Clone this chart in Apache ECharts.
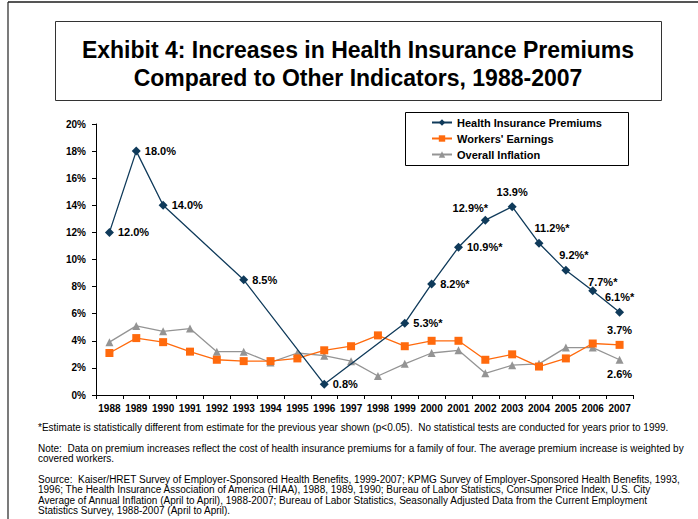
<!DOCTYPE html>
<html>
<head>
<meta charset="utf-8">
<title>Exhibit 4</title>
<script src="https://cdn.jsdelivr.net/npm/echarts@6/dist/echarts.min.js"></script>
<style>
  html, body { margin: 0; padding: 0; background: #fff; }
  #chart { width: 698px; height: 519px; }
</style>
</head>
<body>
<div id="chart"></div>
<script>
const years = ['1988', '1989', '1990', '1991', '1992', '1993', '1994', '1995', '1996', '1997',
  '1998', '1999', '2000', '2001', '2002', '2003', '2004', '2005', '2006', '2007'];
// premium survey only available for some years before 1999
const premiums = [12.0, 18.0, 14.0, null, null, 8.5, null, null, 0.8, null,
  null, 5.3, 8.2, 10.9, 12.9, 13.9, 11.2, 9.2, 7.7, 6.1];
const earnings = [3.1, 4.2, 3.9, 3.2, 2.6, 2.5, 2.5, 2.7, 3.3, 3.6,
  4.4, 3.6, 4.0, 4.0, 2.6, 3.0, 2.1, 2.7, 3.8, 3.7];
const inflation = [3.9, 5.1, 4.7, 4.9, 3.2, 3.2, 2.4, 3.1, 2.9, 2.5,
  1.4, 2.3, 3.1, 3.3, 1.6, 2.2, 2.3, 3.5, 3.5, 2.6];
// years whose premium change is significant vs previous year
const significantYears = ['1999', '2000', '2001', '2002', '2004', '2005', '2006', '2007'];
const yTicks = [0, 2, 4, 6, 8, 10, 12, 14, 16, 18, 20];

const footnotes = [
  '*Estimate is statistically different from estimate for the previous year shown (p<0.05).  No statistical tests are conducted for years prior to 1999.',
  'Note:  Data on premium increases reflect the cost of health insurance premiums for a family of four. The average premium increase is weighted by\ncovered workers.',
  'Source:  Kaiser/HRET Survey of Employer-Sponsored Health Benefits, 1999-2007; KPMG Survey of Employer-Sponsored Health Benefits, 1993,\n1996; The Health Insurance Association of America (HIAA), 1988, 1989, 1990; Bureau of Labor Statistics, Consumer Price Index, U.S. City\nAverage of Annual Inflation (April to April), 1988-2007; Bureau of Labor Statistics, Seasonally Adjusted Data from the Current Employment\nStatistics Survey, 1988-2007 (April to April).'
];

const FONT = '"Liberation Sans", Arial, sans-serif';
const NAVY = '#0f3a5a', ORANGE = '#ff6a0d', GRAY = '#949494';

// where each premium label sits around its point
const premiumLabelPos = {
  '2002': { position: 'top', offset: [-15, 3] },
  '2003': { position: 'top', offset: [0, 0] },
  '2004': { position: 'top', offset: [13, 0] },
  '2005': { position: 'top', offset: [8, 0] },
  '2006': { position: 'top', offset: [10, 6] },
  '2007': { position: 'top', offset: [0, 0] }
};

const labelStyle = { show: true, color: '#000', fontFamily: FONT, fontWeight: 'bold', fontSize: 11 };

function premiumData() {
  return premiums.map((v, i) => {
    if (v === null) return null;
    const y = years[i];
    const star = significantYears.includes(y) ? '*' : '';
    const pos = premiumLabelPos[y] || { position: 'right', distance: 4 };
    return {
      value: v,
      label: Object.assign({}, labelStyle, pos, { formatter: v.toFixed(1) + '%' + star })
    };
  });
}

function lastLabelData(values, position) {
  return values.map((v, i) => i === values.length - 1
    ? { value: v, label: Object.assign({}, labelStyle, { position, formatter: v.toFixed(1) + '%' }) }
    : v);
}

const chart = echarts.init(document.getElementById('chart'), null, { renderer: 'svg' });

chart.setOption({
  animation: false,
  backgroundColor: '#fff',
  grid: { left: 96, right: 65, top: 124, bottom: 124 },
  legend: {
    orient: 'vertical',
    left: 431,
    top: 117,
    itemWidth: 20,
    itemHeight: 8,
    itemGap: 5,
    padding: 0,
    textStyle: { color: '#000', fontFamily: FONT, fontWeight: 'bold', fontSize: 11 },
    data: ['Health Insurance Premiums', "Workers' Earnings", 'Overall Inflation']
  },
  xAxis: {
    type: 'category',
    data: years,
    boundaryGap: true,
    axisLine: { lineStyle: { color: '#000', width: 1 } },
    axisTick: { show: true, length: 4, interval: 0, lineStyle: { color: '#000' } },
    axisLabel: { interval: 0, color: '#000', fontFamily: FONT, fontWeight: 'bold', fontSize: 10, margin: 8 },
    splitLine: { show: false }
  },
  yAxis: {
    type: 'value',
    min: yTicks[0],
    max: yTicks[yTicks.length - 1],
    interval: 2,
    axisLine: { show: true, lineStyle: { color: '#000', width: 1 } },
    axisTick: { show: true, length: 4, lineStyle: { color: '#000' } },
    axisLabel: { color: '#000', fontFamily: FONT, fontWeight: 'bold', fontSize: 10, margin: 10, formatter: '{value}%' },
    splitLine: { show: false }
  },
  series: [
    {
      name: 'Health Insurance Premiums',
      type: 'line',
      data: premiumData(),
      connectNulls: true,
      symbol: 'diamond',
      symbolSize: 9,
      color: NAVY,
      lineStyle: { color: NAVY, width: 1.3 },
      itemStyle: { color: NAVY },
      z: 4
    },
    {
      name: "Workers' Earnings",
      type: 'line',
      data: lastLabelData(earnings, 'top'),
      symbol: 'rect',
      symbolSize: 8,
      color: ORANGE,
      lineStyle: { color: ORANGE, width: 1.3 },
      itemStyle: { color: ORANGE },
      z: 3
    },
    {
      name: 'Overall Inflation',
      type: 'line',
      data: lastLabelData(inflation, 'bottom'),
      symbol: 'triangle',
      symbolSize: 8,
      color: GRAY,
      lineStyle: { color: GRAY, width: 1.3 },
      itemStyle: { color: GRAY },
      z: 2
    }
  ],
  graphic: [
    // outer page frame
    { type: 'line', shape: { x1: 8, y1: 2, x2: 698, y2: 2 }, style: { stroke: '#555', lineWidth: 2 } },
    { type: 'line', shape: { x1: 8, y1: 2, x2: 8, y2: 519 }, style: { stroke: '#222', lineWidth: 1.2 } },
    // title box
    { type: 'rect', shape: { x: 55.5, y: 21.5, width: 606, height: 79 }, style: { fill: 'none', stroke: '#333', lineWidth: 1 } },
    {
      type: 'text', x: 358, y: 50,
      style: { text: 'Exhibit 4: Increases in Health Insurance Premiums', fill: '#000', font: 'bold 23px ' + FONT, textAlign: 'center', textVerticalAlign: 'middle' }
    },
    {
      type: 'text', x: 358, y: 78,
      style: { text: 'Compared to Other Indicators, 1988-2007', fill: '#000', font: 'bold 23px ' + FONT, textAlign: 'center', textVerticalAlign: 'middle' }
    },
    // legend box
    { type: 'rect', shape: { x: 405.5, y: 112.5, width: 223, height: 53 }, style: { fill: 'none', stroke: '#000', lineWidth: 1 }, z: 10 },
    // footnotes
    { type: 'text', x: 38, y: 421.75, style: { text: footnotes[0], fill: '#000', font: '10px ' + FONT, lineHeight: 10.5 } },
    { type: 'text', x: 38, y: 442.75, style: { text: footnotes[1], fill: '#000', font: '10px ' + FONT, lineHeight: 10.5 } },
    { type: 'text', x: 38, y: 473.75, style: { text: footnotes[2], fill: '#000', font: '10px ' + FONT, lineHeight: 10.5 } }
  ]
});
</script>
</body>
</html>
